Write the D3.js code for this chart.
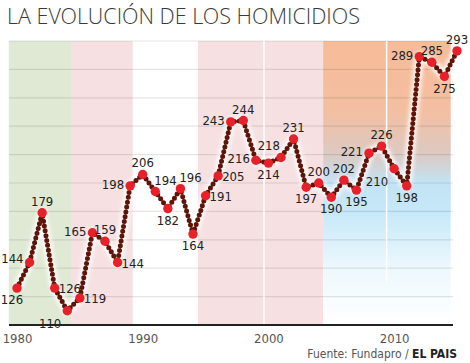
<!DOCTYPE html>
<html>
<head>
<meta charset="utf-8">
<script src="https://cdn.jsdelivr.net/npm/d3@7"></script>
<style>
  body { margin: 0; background: #fff; }
  svg { display: block; }
</style>
</head>
<body>
<svg id="chart" width="470" height="363"></svg>
<script>
const years = d3.range(1980, 2016);
const homicides = [126, 144, 179, 126, 110, 119, 165, 159, 144, 198,
  206, 194, 182, 196, 164, 191, 205, 243, 244, 216,
  214, 218, 231, 197, 200, 190, 202, 195, 221, 226,
  210, 198, 289, 285, 275, 293];
// where each value label sits relative to its dot
const labelPos = ['bc', 'tl', 't', 'r', 'bl', 'r', 'l', 't', 'r', 'l',
  't', 'tr', 'b', 'tr', 'b', 'r', 'r', 'l', 't', 'l',
  'b', 'tx', 't', 'b', 't', 'b', 't', 'b', 'l', 't',
  'bl', 'b', 'l', 't', 'b', 't'];
const xTicks = [1980, 1990, 2000, 2010];
const yGrid = [120, 140, 160, 180, 200, 220, 240, 260, 280, 300];
const bands = [
  { from: 1979.35, to: 1984.3, fill: '#dfe9d4' },
  { from: 1984.3, to: 1989.2, fill: '#f6e0e1' },
  { from: 1994.4, to: 2004.35, fill: '#f6e0e1' },
  { from: 2004.35, to: 2014.5, fill: 'url(#grad)' }
];
const dividers = [1999.65, 2009.4];

const svg = d3.select('#chart');
const x = d3.scaleLinear().domain([1980, 2015]).range([17, 457]);
const y = d3.scaleLinear().domain([100, 300]).range([325, 41]);
const data = years.map((yr, i) => ({ year: yr, value: homicides[i], pos: labelPos[i] }));

const defs = svg.append('defs');
const grad = defs.append('linearGradient')
  .attr('id', 'grad').attr('x1', 0).attr('y1', 0).attr('x2', 0).attr('y2', 1);
[[0, '#f7bb97'], [0.25, '#f3bfa2'], [0.4, '#dccac4'], [0.5, '#c2e3f4'],
  [0.6, '#c6e8f8'], [0.8, '#edf8fd'], [1, '#ffffff']].forEach(s => {
  grad.append('stop').attr('offset', s[0]).attr('stop-color', s[1]);
});
defs.append('filter').attr('id', 'glow')
  .attr('x', '-10%').attr('y', '-10%').attr('width', '120%').attr('height', '120%')
  .append('feGaussianBlur').attr('stdDeviation', 2);

// title
svg.append('text')
  .attr('x', 7).attr('y', 24)
  .style('font-family', '"Open Sans Light", "Open Sans", Lato, sans-serif')
  .style('font-weight', 300)
  .style('font-size', '21.5px')
  .style('fill', '#3a3a3a')
  .text('LA EVOLUCIÓN DE LOS HOMICIDIOS');

// background bands
svg.append('g').selectAll('rect').data(bands).join('rect')
  .attr('x', d => x(d.from))
  .attr('width', d => x(d.to) - x(d.from))
  .attr('y', y(300))
  .attr('height', y(100) - y(300))
  .attr('fill', d => d.fill);

// grid
svg.append('g').selectAll('line').data(yGrid).join('line')
  .attr('x1', 9).attr('x2', 453)
  .attr('y1', d => y(d)).attr('y2', d => y(d))
  .attr('stroke', '#000').attr('stroke-opacity', 0.1).attr('stroke-width', 1.2);

svg.append('g').selectAll('line').data(dividers).join('line')
  .attr('x1', d => x(d)).attr('x2', d => x(d))
  .attr('y1', y(300)).attr('y2', d => d > 2005 ? 282 : y(100))
  .attr('stroke', '#fff').attr('stroke-width', 1.5);

// x axis
const xAxis = svg.append('g')
  .attr('transform', `translate(0,${y(100)})`)
  .call(d3.axisBottom(x).tickValues(xTicks).tickFormat(d3.format('d')).tickSize(0).tickPadding(9));
xAxis.select('.domain').remove();
xAxis.selectAll('text')
  .style('font-family', '"Liberation Sans Narrow", "DejaVu Sans Condensed", sans-serif')
  .style('font-size', '13px')
  .style('fill', '#555');
svg.append('line')
  .attr('x1', 9).attr('x2', 453).attr('y1', y(100)).attr('y2', y(100))
  .attr('stroke', '#222').attr('stroke-width', 2);

// line
const line = d3.line().x(d => x(d.year)).y(d => y(d.value));
svg.append('path').datum(data)
  .attr('d', line)
  .attr('fill', 'none')
  .attr('stroke', '#fff')
  .attr('stroke-width', 9)
  .attr('stroke-linejoin', 'round')
  .attr('opacity', 0.9)
  .attr('filter', 'url(#glow)');
svg.append('path').datum(data)
  .attr('d', line)
  .attr('fill', 'none')
  .attr('stroke', '#5e1408')
  .attr('stroke-width', 5)
  .attr('stroke-linecap', 'round')
  .attr('stroke-dasharray', '0 4.9');

svg.append('g').selectAll('circle').data(data).join('circle')
  .attr('cx', d => x(d.year))
  .attr('cy', d => y(d.value))
  .attr('r', 4.7)
  .attr('fill', '#e8202a');

// value labels
const offsets = {
  t: [0, -7, 'middle'], b: [0, 16, 'middle'], bc: [-5, 16, 'middle'],
  tx: [-1, -7, 'end'],
  l: [-6, 3, 'end'], r: [4, 5, 'start'],
  tl: [-6, 0, 'end'], tr: [-1, -7, 'start'],
  bl: [-6, 17, 'end']
};
svg.append('g').selectAll('text').data(data).join('text')
  .attr('x', d => x(d.year) + offsets[d.pos][0])
  .attr('y', d => y(d.value) + offsets[d.pos][1])
  .attr('text-anchor', d => offsets[d.pos][2])
  .style('font-family', '"Liberation Sans Narrow", "DejaVu Sans Condensed", sans-serif')
  .style('font-size', '13px')
  .style('fill', '#222')
  .text(d => d.value);

// source
const src = svg.append('text')
  .attr('x', 457).attr('y', 358)
  .attr('text-anchor', 'end')
  .style('font-family', '"Liberation Sans Narrow", "DejaVu Sans Condensed", sans-serif')
  .style('font-size', '12px');
src.append('tspan').style('fill', '#555').text('Fuente: Fundapro / ');
src.append('tspan').style('fill', '#222').style('font-weight', 'bold').text('EL PAIS');
</script>
</body>
</html>
